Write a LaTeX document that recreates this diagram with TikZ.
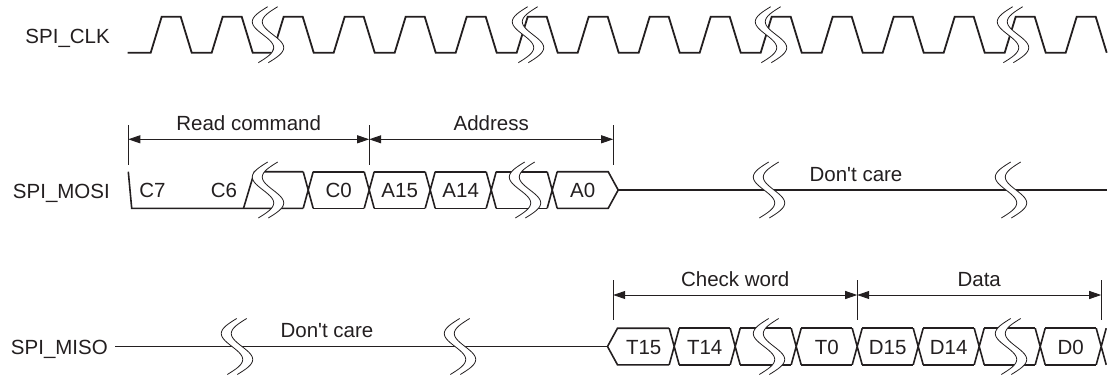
\documentclass[tikz,border=0pt]{standalone}
\usepackage{fontspec}
\setmainfont{Liberation Sans}
\usetikzlibrary{arrows.meta}
\definecolor{ink}{RGB}{35,31,32}
\begin{document}
\begin{tikzpicture}[x=1pt,y=-1pt,
  lbl/.style={inner sep=0pt, text=ink, font=\fontsize{20.5}{24}\selectfont},
  clk/.style={draw=ink, line width=1.8pt},
  bus/.style={draw=ink, line width=1.6pt},
  dimline/.style={draw=ink, line width=0.9pt, {Triangle[length=12pt,width=8pt]}-{Triangle[length=12pt,width=8pt]}},
  tickline/.style={draw=ink, line width=1pt},
  brkline/.style={draw=ink, line width=0.8pt},
  brk/.pic={
    \fill[white] plot[domain=-1:1,samples=31,variable=\s] ({13*sin(180*\s)-4.7*\s-5},{28*\s})
      -- plot[domain=1:-1,samples=31,variable=\s] ({13*sin(180*\s)-4.7*\s+5},{28*\s}) -- cycle;
    \draw[brkline] plot[domain=-1:1,samples=31,smooth,variable=\s] ({13*sin(180*\s)-4.7*\s-5},{28*\s});
    \draw[brkline] plot[domain=-1:1,samples=31,smooth,variable=\s] ({13*sin(180*\s)-4.7*\s+5},{28*\s});
  }]
\useasboundingbox (0,0) rectangle (1113,380);

% signal names
\node[lbl, anchor=base east] (nclk) at (110,43.3) {SPI\_CLK};
\node[lbl, anchor=base east] (nmosi) at (110,198.3) {SPI\_MOSI};
\node[lbl, anchor=base east] (nmiso) at (108,354.2) {SPI\_MISO};

% clock
\draw[clk] (127.5,52.7) \foreach \k in {0,...,14}{ -- ({150.7+61*\k},52.7) -- ({161.7+61*\k},16.7) -- ({180.7+61*\k},16.7) -- ({191.7+61*\k},52.7) } -- (1065.7,52.7) -- (1076.7,16.7) -- (1095.7,16.7) -- (1106.7,52.7);

% MOSI
\draw[bus] (128.3,171.7) -- (131.7,208.3) -- (303.2,208.3);
\draw[bus] (243.5,208.3) -- (254.5,171.7) -- (303.2,171.7);
\foreach \c in {308.2,369.2,430.2,491.2,552.2}
  \draw[bus] ({\c-5},171.7) -- ({\c+5},208.3) ({\c-5},208.3) -- ({\c+5},171.7);
\foreach \a/\b in {308.2/369.2,369.2/430.2,430.2/491.2,491.2/552.2}
  \draw[bus] ({\a+5},171.7) -- ({\b-5},171.7) ({\a+5},208.3) -- ({\b-5},208.3);
\draw[bus] (557.2,171.7) -- (608.2,171.7) -- (618.2,190) -- (608.2,208.3) -- (557.2,208.3);
\coordinate (mosiend) at (618.2,190);
\coordinate (mosiright) at (1107,190);
\draw[bus] (mosiend) -- (mosiright);

\node[lbl, anchor=base] (c7) at (152.5,197.5) {C7};
\node[lbl, anchor=base] (c6) at (224,197.5) {C6};
\node[lbl, anchor=base] (c0) at (338.7,197.5) {C0};
\node[lbl, anchor=base] (a15) at (399.7,197.5) {A15};
\node[lbl, anchor=base] (a14) at (460.7,197.5) {A14};
\node[lbl, anchor=base] (a0) at (582.7,197.5) {A0};
\node[lbl, anchor=base] (dc1) at (856,181) {Don\textquotesingle t care};

% MOSI dimensions
\draw[tickline] (128.3,125) -- (128.3,165);
\draw[tickline] (369.2,125) -- (369.2,165);
\draw[tickline] (613.2,125) -- (613.2,165);
\coordinate (m0) at (128.3,139.3);
\coordinate (m1) at (369.2,139.3);
\coordinate (m2) at (613.2,139.3);
\draw[dimline] (m0) -- (m1);
\draw[dimline] (m1) -- (m2);
\node[lbl, anchor=base] (rc) at (248.7,130) {Read command};
\node[lbl, anchor=base] (ad) at (491.2,130) {Address};

% MISO
\coordinate (misoleft) at (115,346.5);
\coordinate (misostart) at (607.5,346.5);
\draw[bus] (misoleft) -- (misostart);
\draw[bus] (669.2,328.2) -- (617.5,328.2) -- (607.5,346.5) -- (617.5,364.8) -- (669.2,364.8);
\foreach \c in {674.2,735.2,796.2,857.2,918.2,979.2,1040.2,1101.2}
  \draw[bus] ({\c-5},328.2) -- ({\c+5},364.8) ({\c-5},364.8) -- ({\c+5},328.2);
\foreach \a/\b in {674.2/735.2,735.2/796.2,796.2/857.2,857.2/918.2,918.2/979.2,979.2/1040.2,1040.2/1101.2}
  \draw[bus] ({\a+5},328.2) -- ({\b-5},328.2) ({\a+5},364.8) -- ({\b-5},364.8);

\node[lbl, anchor=base] (t15) at (643.7,354) {T15};
\node[lbl, anchor=base] (t14) at (704.7,354) {T14};
\node[lbl, anchor=base] (t0) at (826.7,354) {T0};
\node[lbl, anchor=base] (d15) at (887.7,354) {D15};
\node[lbl, anchor=base] (d14) at (948.7,354) {D14};
\node[lbl, anchor=base] (d0) at (1070.7,354) {D0};
\node[lbl, anchor=base] (dc2) at (327,337) {Don\textquotesingle t care};

% MISO dimensions
\draw[tickline] (613.2,280) -- (613.2,320);
\draw[tickline] (857.2,280) -- (857.2,320);
\draw[tickline] (1101.2,280) -- (1101.2,320);
\coordinate (s0) at (613.2,295);
\coordinate (s1) at (857.2,295);
\coordinate (s2) at (1101.2,295);
\draw[dimline] (s0) -- (s1);
\draw[dimline] (s1) -- (s2);
\node[lbl, anchor=base] (cw) at (735.2,286.5) {Check word};
\node[lbl, anchor=base] (dt) at (979.2,286.5) {Data};

% break marks
\foreach \x in {268,528,771,1013} \pic at (\x,34.7) {brk};
\foreach \x in {268,525,769,1011} \pic at (\x,190) {brk};
\foreach \x in {237,460,769,1011} \pic at (\x,346.5) {brk};
\end{tikzpicture}
\end{document}
